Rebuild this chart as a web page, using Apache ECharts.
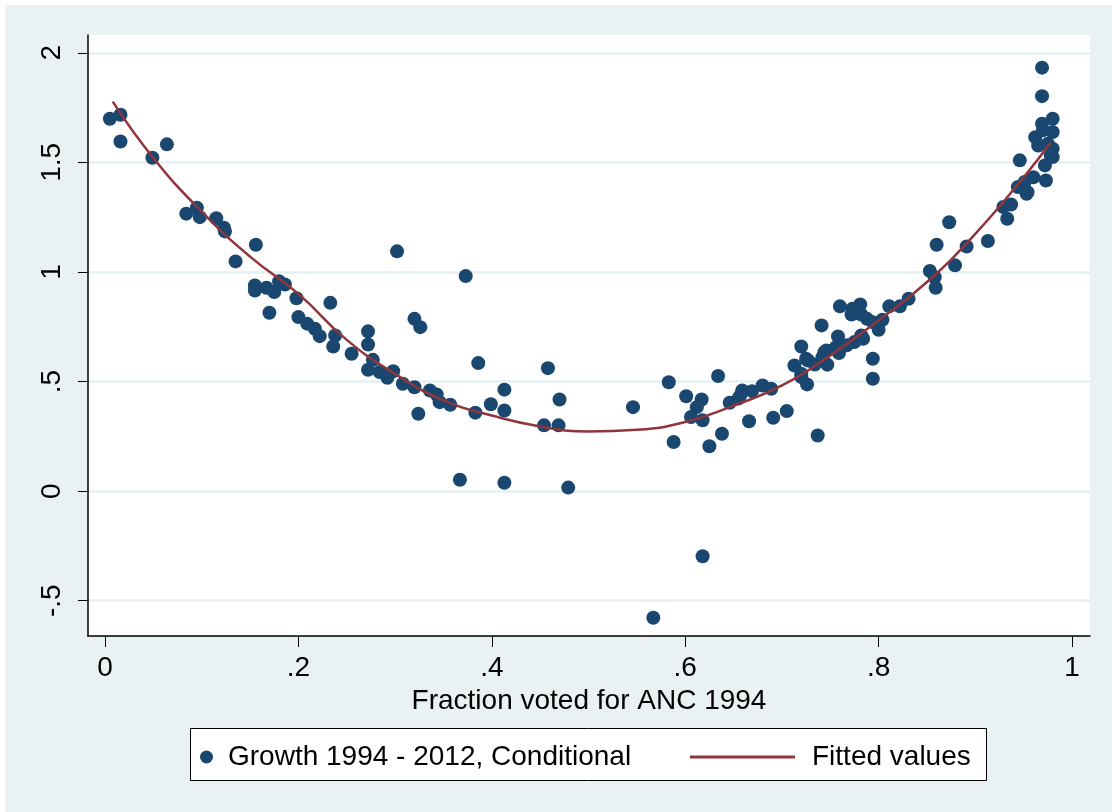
<!DOCTYPE html>
<html>
<head>
<meta charset="utf-8">
<script src="https://cdn.jsdelivr.net/npm/echarts@6/dist/echarts.min.js"></script>
<style>html,body{margin:0;padding:0;background:#fff;}#c{width:1112px;height:812px;}</style>
</head>
<body>
<div id="c"></div>
<script>
// Scatter: Growth 1994 - 2012, Conditional
const growthX = [0.005,0.016,0.016,0.049,0.064,0.084,0.095,0.098,0.115,0.123,0.124,0.156,0.135,0.155,0.155,0.167,0.175,0.180,0.186,0.198,0.233,0.170,0.200,0.209,0.217,0.222,0.238,0.236,0.255,0.272,0.272,0.277,0.272,0.284,0.298,0.292,0.308,0.320,0.336,0.343,0.346,0.357,0.324,0.302,0.373,0.320,0.326,0.386,0.383,0.399,0.413,0.413,0.458,0.470,0.454,0.469,0.367,0.413,0.479,0.546,0.583,0.634,0.601,0.617,0.612,0.606,0.618,0.588,0.625,0.638,0.646,0.618,0.567,0.655,0.659,0.666,0.669,0.680,0.689,0.691,0.705,0.713,0.720,0.725,0.720,0.726,0.734,0.741,0.744,0.747,0.758,0.759,0.737,0.760,0.773,0.781,0.775,0.784,0.788,0.794,0.800,0.804,0.794,0.794,0.811,0.822,0.831,0.853,0.858,0.859,0.860,0.873,0.879,0.891,0.913,0.929,0.937,0.933,0.946,0.944,0.953,0.960,0.969,0.969,0.969,0.980,0.962,0.970,0.980,0.965,0.980,0.980,0.972,0.973,0.772,0.782,0.756,0.746,0.742,0.727,0.720,0.767,0.782,0.975,0.978,0.951,0.954,0.657];
const growthY = [1.699,1.717,1.595,1.521,1.582,1.266,1.293,1.250,1.245,1.202,1.185,1.124,1.048,0.938,0.915,0.928,0.908,0.957,0.943,0.880,0.859,0.814,0.794,0.764,0.741,0.707,0.710,0.660,0.627,0.729,0.669,0.599,0.554,0.543,0.547,0.517,0.490,0.474,0.459,0.441,0.406,0.394,0.353,1.094,0.981,0.786,0.748,0.584,0.358,0.396,0.463,0.368,0.561,0.418,0.300,0.300,0.052,0.038,0.016,0.383,0.497,0.525,0.433,0.418,0.383,0.338,0.323,0.224,0.205,0.262,0.403,-0.297,-0.578,0.422,0.459,0.319,0.456,0.482,0.467,0.335,0.365,0.573,0.660,0.604,0.520,0.487,0.578,0.756,0.634,0.577,0.706,0.630,0.254,0.843,0.832,0.852,0.680,0.695,0.786,0.771,0.736,0.782,0.604,0.513,0.843,0.843,0.878,1.004,0.976,0.928,1.124,1.227,1.030,1.116,1.141,1.296,1.308,1.243,1.509,1.387,1.357,1.432,1.932,1.802,1.676,1.699,1.615,1.646,1.638,1.577,1.562,1.524,1.486,1.417,0.806,0.806,0.657,0.642,0.611,0.596,0.536,0.665,0.710,1.585,1.532,1.410,1.364,0.437];

// Fitted values
const fitX = [0.008,0.05,0.10,0.15,0.20,0.25,0.30,0.35,0.40,0.45,0.50,0.55,0.60,0.65,0.70,0.75,0.80,0.85,0.90,0.95,0.978];
const fitY = [1.777,1.52,1.275,1.07,0.90,0.69,0.535,0.414,0.345,0.295,0.272,0.28,0.315,0.39,0.482,0.619,0.779,0.954,1.174,1.432,1.592];

const xTickValues = [0,0.2,0.4,0.6,0.8,1];
const xTickLabels = ['0','.2','.4','.6','.8','1'];
const yTickValues = [-0.5,0,0.5,1,1.5,2];
const yTickLabels = ['-.5','0','.5','1','1.5','2'];

const seriesNames = ['Growth 1994 - 2012, Conditional','Fitted values'];
const xTitle = 'Fraction voted for ANC 1994';

const FONT = 'Liberation Sans, Arial, sans-serif';
const scatterData = growthX.map((x,i)=>[x,growthY[i]]);
const fitData = fitX.map((x,i)=>[x,fitY[i]]);
const xLab = v => { const i = xTickValues.findIndex(t=>Math.abs(t-v)<1e-9); return i>=0 ? xTickLabels[i] : ''; };
const yLab = v => { const i = yTickValues.findIndex(t=>Math.abs(t-v)<1e-9); return i>=0 ? yTickLabels[i] : ''; };

const chart = echarts.init(document.getElementById('c'), null, {renderer:'canvas'});
chart.setOption({
  backgroundColor: '#ffffff',
  animation: false,
  textStyle: {fontFamily: FONT},
  graphic: [
    {type:'rect', z:-10, shape:{x:5,y:5,width:1107,height:807}, style:{fill:'#e9f1f3'}},
    {type:'rect', z:-5, shape:{x:190.5,y:728.5,width:796,height:52}, style:{fill:'#ffffff', stroke:'#000000', lineWidth:1}}
  ],
  grid: {left:88, right:22, top:35, bottom:176, show:true, backgroundColor:'#ffffff', borderWidth:0},
  xAxis: {
    type:'value', min:-0.0176, max:1.0186,
    name: xTitle, nameLocation:'middle', nameGap:44,
    nameTextStyle:{fontSize:28, color:'#000', fontFamily:FONT},
    axisLine:{show:true, onZero:false, lineStyle:{color:'#000', width:1.5}},
    axisTick:{show:true, length:11, customValues:xTickValues, lineStyle:{color:'#000', width:1}},
    axisLabel:{customValues:xTickValues, formatter:xLab, fontSize:28, color:'#000', margin:18, fontFamily:FONT},
    splitLine:{show:false}
  },
  yAxis: {
    type:'value', min:-0.661, max:2.081,
    axisLine:{show:true, onZero:false, lineStyle:{color:'#000', width:1.5}},
    axisTick:{show:true, length:10, customValues:yTickValues, lineStyle:{color:'#000', width:1}},
    axisLabel:{customValues:yTickValues, formatter:yLab, rotate:90, fontSize:28, color:'#000', margin:22, fontFamily:FONT},
    splitLine:{show:true, lineStyle:{color:'#e6eff1', width:2.5}}
  },
  legend: [
    {data:[{name:seriesNames[0], icon:'circle'}], left:200, top:743, itemWidth:13, itemHeight:13, itemGap:0,
     textStyle:{fontSize:28, color:'#000', fontFamily:FONT, padding:[0,0,0,10]}, padding:0, selectedMode:false},
    {data:[{name:seriesNames[1], icon:'rect', itemStyle:{color:'#90353b'}}], left:690, top:743, itemWidth:105, itemHeight:3, itemGap:0,
     textStyle:{fontSize:28, color:'#000', fontFamily:FONT, padding:[0,0,0,12]}, padding:0, selectedMode:false}
  ],
  series: [
    {name:seriesNames[0], type:'scatter', data:scatterData, symbol:'circle', symbolSize:14,
     itemStyle:{color:'#1a476f', opacity:1}, z:2},
    {name:seriesNames[1], type:'line', data:fitData, smooth:true, symbol:'none', showSymbol:false,
     lineStyle:{color:'#90353b', width:2.5}, itemStyle:{color:'#90353b'}, z:3}
  ]
});
</script>
</body>
</html>
